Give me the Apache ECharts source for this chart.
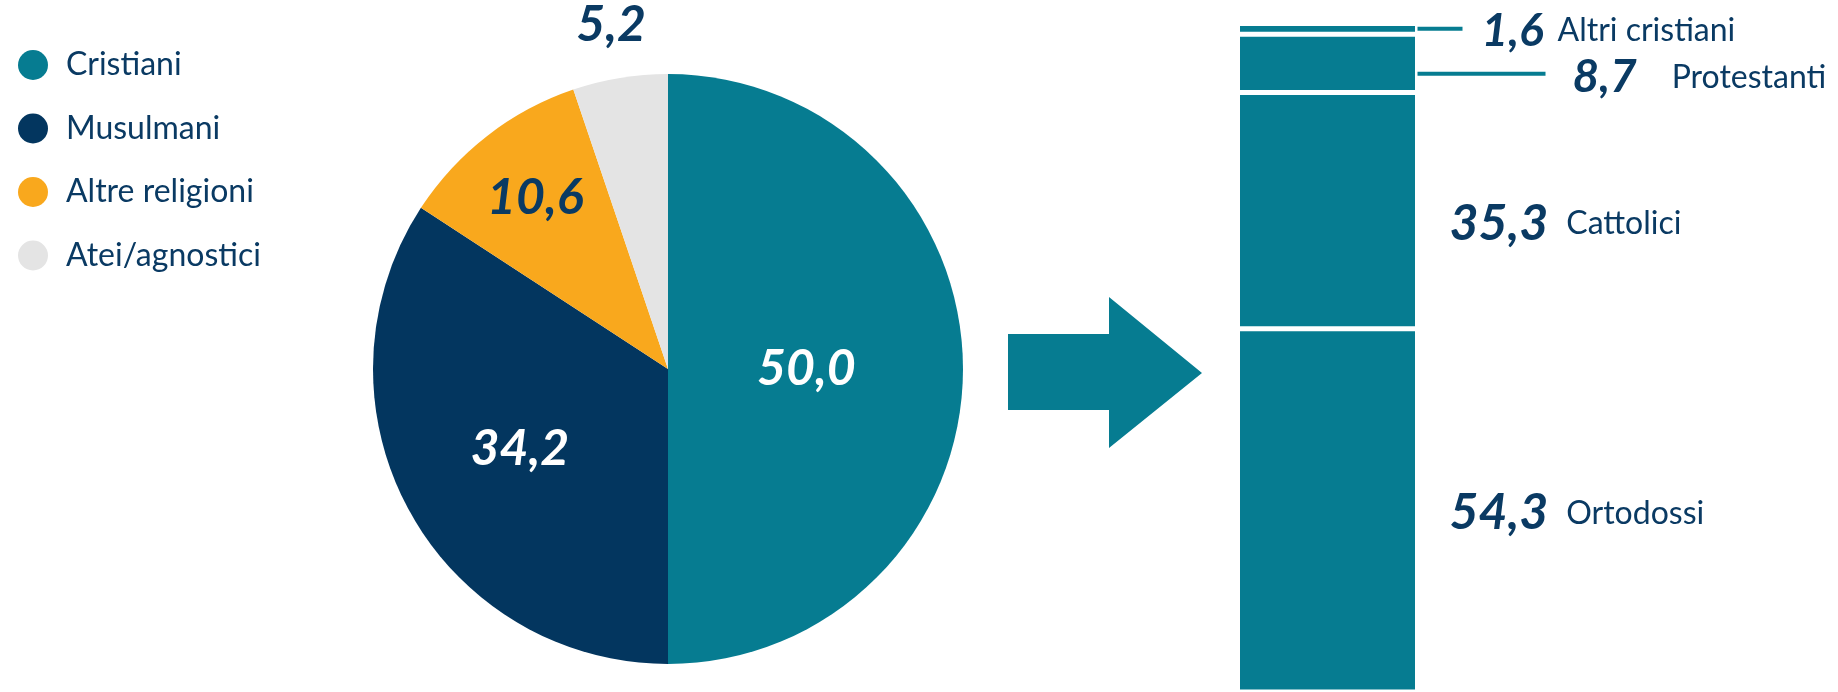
<!DOCTYPE html>
<html>
<head>
<meta charset="utf-8">
<script src="https://cdn.jsdelivr.net/npm/echarts@6/dist/echarts.min.js"></script>
<style>
html,body{margin:0;padding:0;background:#fff;}
#c{width:1838px;height:692px;}
</style>
</head>
<body>
<div id="c"></div>
<script>
// ---- data ----
const religionNames = ['Cristiani', 'Musulmani', 'Altre religioni', 'Atei/agnostici'];
const religionValues = [50.0, 34.2, 10.6, 5.2];
const christianNames = ['Ortodossi', 'Cattolici', 'Protestanti', 'Altri cristiani'];
const christianValues = [54.3, 35.3, 8.7, 1.6];

// ---- styles ----
const TEAL = '#067C91', NAVY = '#03365F', ORANGE = '#F9A81D', GREY = '#E4E4E4', TXT = '#0A3A63';
const pieColors = [TEAL, NAVY, ORANGE, GREY];
const pieLabelColors = ['#ffffff', '#ffffff', TXT, TXT];
const pieLabelRadius = [0.46, 0.56, 0.72, 1.16];   // fraction of radius
const PIE_C = [668, 369], PIE_R = 295;
const BAR_W = 180, BAR_BORDER = 2.5;
const barLabelDist = [32, 32, 155, 64];
const barLabelDy = [3, 13, 14, 2];
const barNumSize = [50, 50, 46, 46];
const barNameGap = [18, 18, 35, 14];
const connectorDy = [null, null, 10.5, 0];
const connectorLen = [0, 0, 133, 50];

const fmt = v => v.toFixed(1).replace('.', ',');
const FONT = 'Lato';

const chart = echarts.init(document.getElementById('c'), null, {renderer: 'canvas'});
const total = christianValues.reduce((a, b) => a + b, 0);

const barSeries = christianNames.map((name, i) => ({
  type: 'bar',
  name: name,
  stack: 'cr',
  xAxisIndex: 0, yAxisIndex: 0,
  barWidth: BAR_W,
  data: [christianValues[i]],
  itemStyle: {color: TEAL, borderColor: '#ffffff', borderWidth: BAR_BORDER},
  label: {
    show: true,
    position: 'right',
    distance: barLabelDist[i],
    offset: [0, barLabelDy[i]],
    formatter: () => '{n|' + fmt(christianValues[i]) + '}{t|' + name + '}',
    rich: {
      n: {fontFamily: FONT, fontStyle: 'italic', fontWeight: 'bold', fontSize: barNumSize[i], color: TXT, verticalAlign: 'middle'},
      t: {fontFamily: FONT, fontSize: 32, color: TXT, padding: [0, 0, 0, barNameGap[i]], verticalAlign: 'middle'}
    }
  },
  silent: true
}));

chart.setOption({
  animation: false,
  legend: {
    orient: 'vertical',
    left: 13, top: 44,
    icon: 'circle',
    itemWidth: 30, itemHeight: 30,
    itemGap: 31.5,
    selectedMode: false,
    data: religionNames,
    textStyle: {fontFamily: FONT, fontSize: 32, color: TXT, padding: [0, 0, 0, 13]}
  },
  grid: [{left: 1327.5 - 100, width: 200, top: 23.5, height: 669}],
  xAxis: [{type: 'category', data: ['Cristiani'], show: false, gridIndex: 0}],
  yAxis: [{type: 'value', min: 0, max: total, show: false, gridIndex: 0}],
  series: [
    {
      type: 'pie',
      center: PIE_C,
      radius: PIE_R,
      startAngle: 90,
      clockwise: true,
      silent: true,
      data: religionNames.map((n, i) => ({
        name: n, value: religionValues[i],
        itemStyle: {color: pieColors[i]},
        label: {color: pieLabelColors[i]}
      })),
      label: {
        show: true,
        position: 'inside',
        formatter: p => fmt(p.value),
        fontFamily: FONT, fontStyle: 'italic', fontWeight: 'bold', fontSize: 50
      },
      labelLine: {show: false},
      labelLayout: function (p) {
        const k = pieLabelRadius[p.dataIndex] / 0.5;
        const lx = p.labelRect.x + p.labelRect.width / 2;
        const ly = p.labelRect.y + p.labelRect.height / 2;
        return {x: PIE_C[0] + (lx - PIE_C[0]) * k, y: PIE_C[1] + (ly - PIE_C[1]) * k};
      }
    }
  ].concat(barSeries),
  graphic: [{
    id: 'arrow',
    type: 'polygon',
    shape: {points: [[1008, 334], [1109, 334], [1109, 297], [1202, 373], [1109, 448], [1109, 410], [1008, 410]]},
    style: {fill: TEAL},
    silent: true
  }]
});

// connector lines derived from the bar scale
const lines = [];
let cum = 0;
christianValues.forEach((v, i) => {
  const lo = cum, hi = cum + v;
  cum = hi;
  if (connectorDy[i] == null) return;
  const pLo = chart.convertToPixel({gridIndex: 0}, [0, lo]);
  const pHi = chart.convertToPixel({gridIndex: 0}, [0, hi]);
  const x0 = pLo[0] + BAR_W / 2 - BAR_BORDER * 2;
  const y = (pLo[1] + pHi[1]) / 2 + connectorDy[i];
  lines.push({
    id: 'conn' + i, type: 'line', silent: true,
    shape: {x1: x0, y1: y, x2: x0 + connectorLen[i], y2: y},
    style: {stroke: TEAL, lineWidth: 4}
  });
});
chart.setOption({graphic: lines});
</script>
</body>
</html>
